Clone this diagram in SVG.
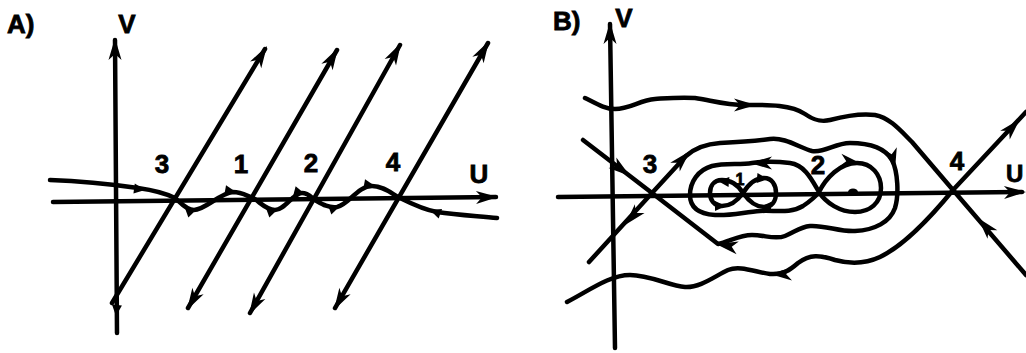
<svg xmlns="http://www.w3.org/2000/svg" xmlns:xlink="http://www.w3.org/1999/xlink" width="1026" height="353" viewBox="0 0 1026 353">
<style>
.ln{fill:none;stroke:#000;stroke-width:4.5;stroke-linecap:round;stroke-linejoin:round}
.lbl{font-family:"Liberation Sans",Arial,sans-serif;font-weight:bold;font-size:26px;fill:#000;stroke:#000;stroke-width:0.8}
.sm{font-size:16px}
</style>
<defs>
<path id="ah" d="M0,0 L-22,-6.5 L-16,0 L-22,6.5 Z" fill="#000"/>
<path id="as" d="M0,0 L-11,-5 L-11,5 Z" fill="#000"/>
</defs>
<rect width="1026" height="353" fill="#fff"/>

<g id="panelA">
  <text class="lbl" x="7" y="33">A)</text>
  <text class="lbl" x="127" y="33" text-anchor="middle">V</text>
  <text class="lbl" x="162" y="173" text-anchor="middle">3</text>
  <text class="lbl" x="241" y="173" text-anchor="middle">1</text>
  <text class="lbl" x="311" y="172" text-anchor="middle">2</text>
  <text class="lbl" x="393" y="171" text-anchor="middle">4</text>
  <text class="lbl" x="479" y="183" text-anchor="middle">U</text>
  <!-- axes -->
  <path class="ln" d="M115,40 L117,333"/>
  <use xlink:href="#ah" transform="translate(115,38) rotate(-90)"/>
  <use xlink:href="#as" transform="translate(116,316) rotate(95)"/>
  <path class="ln" d="M53,202 L496,197"/>
  <use xlink:href="#ah" transform="translate(498,197) rotate(-1)"/>
  <!-- diagonals -->
  <path class="ln" d="M112,303 L265,49"/>
  <use xlink:href="#ah" transform="translate(267,46) rotate(-59)"/>
  <path class="ln" d="M188,308 L337,50"/>
  <use xlink:href="#ah" transform="translate(338,48) rotate(-60)"/>
  <use xlink:href="#ah" transform="translate(187,310) rotate(120)"/>
  <path class="ln" d="M250,313 L400,45"/>
  <use xlink:href="#ah" transform="translate(401,43) rotate(-61)"/>
  <use xlink:href="#ah" transform="translate(249,315) rotate(119)"/>
  <path class="ln" d="M335,308 L488,43"/>
  <use xlink:href="#ah" transform="translate(489,41) rotate(-60)"/>
  <use xlink:href="#ah" transform="translate(334,310) rotate(120)"/>
  <!-- near-axis orbits -->
  <path class="ln" d="M50,180 C80,181 110,184 138,188 C152,190 165,193 175,198"/>
  <use xlink:href="#as" transform="translate(145,190) rotate(8)"/>
  <path class="ln" d="M175,198 C182,204 187,210 194,210 C205,210 220,193 233,192 C242,192 247,196 253,198 C260,202 266,210 275,210 C285,210 293,193 302,193 C308,193 311,197 315,200 C322,204 328,208 337,207 C348,205 358,186 372,186 C384,186 392,194 400,198 C412,204 425,210 437,212 C457,215 477,216 497,218"/>
  <use xlink:href="#as" transform="translate(197,209) rotate(-20)"/>
  <use xlink:href="#as" transform="translate(236,192) rotate(10)"/>
  <use xlink:href="#as" transform="translate(278,209) rotate(-20)"/>
  <use xlink:href="#as" transform="translate(305,194) rotate(15)"/>
  <use xlink:href="#as" transform="translate(340,206) rotate(-20)"/>
  <use xlink:href="#as" transform="translate(375,186) rotate(10)"/>
  <use xlink:href="#as" transform="translate(430,210) rotate(200)"/>
</g>

<g id="panelB">
  <text class="lbl" x="553" y="30">B)</text>
  <text class="lbl" x="624" y="27" text-anchor="middle">V</text>
  <text class="lbl" x="650" y="173" text-anchor="middle">3</text>
  <text class="lbl" x="818" y="174" text-anchor="middle">2</text>
  <text class="lbl" x="957" y="170" text-anchor="middle">4</text>
  <text class="lbl sm" x="740" y="185" text-anchor="middle">1</text>
  <text class="lbl" x="1006" y="182" style="font-size:24px">U</text>
  <!-- axes -->
  <path class="ln" d="M610,24 L615,348"/>
  <use xlink:href="#ah" transform="translate(610,22) rotate(-90)"/>
  <path class="ln" d="M558,197 L1022,192"/>
  <use xlink:href="#ah" transform="translate(1026,192) rotate(-1)"/>
  <!-- separatrices at 3 -->
  <path class="ln" d="M583,140 L652,193 L589,262"/>
  <use xlink:href="#ah" transform="translate(630,176) rotate(37)"/>
  <use xlink:href="#ah" transform="translate(625,225) rotate(132)"/>
  <!-- separatrices at 4 -->
  <path class="ln" d="M953,190 L1026,112"/>
  <use xlink:href="#ah" transform="translate(1020,119) rotate(-47)"/>
  <path class="ln" d="M953,190 L1026,275"/>
  <use xlink:href="#ah" transform="translate(978,218) rotate(229)"/>
  <!-- outer top -->
  <path class="ln" d="M585,98 C597,104 605,109 615,109 C630,109 640,100 655,99 C670,98 680,97 695,98 C710,100 725,105 745,105 C765,105 790,104 805,114 C815,121 822,122 830,120 C845,116 860,113 875,115 C890,118 900,130 912,142 L953,190"/>
  <use xlink:href="#ah" transform="translate(756,105) rotate(0)"/>
  <!-- outer bottom -->
  <path class="ln" d="M953,190 C935,212 905,245 880,257 C865,264 850,264 835,260 C820,255 810,254 798,263 C790,270 783,275 770,274 C755,272 740,265 728,270 C715,276 700,288 685,287 C670,286 650,275 630,275 C610,275 590,290 567,302"/>
  <use xlink:href="#ah" transform="translate(770,274) rotate(180)"/>
  <!-- homoclinic loop of 3 -->
  <path class="ln" d="M652,193 L686,156 C695,148 705,144 720,143 C740,142 755,141 770,139 C785,137 800,148 812,151 C825,153 835,143 850,143 C870,143 885,148 892,160 C898,172 899,195 895,208 C890,222 875,230 855,231 C840,232 825,225 810,226 C800,227 795,232 785,236 C775,240 765,235 752,235 C740,235 730,241 718,244 L652,193"/>
  <use xlink:href="#ah" transform="translate(690,151) rotate(-47)"/>
  <use xlink:href="#ah" transform="translate(895,170) rotate(78)"/>
  <use xlink:href="#ah" transform="translate(716,244) rotate(190)"/>
  <!-- figure eight through 2 -->
  <path class="ln" d="M819,192 C812,180 805,165 790,163 C775,161 765,161 752,163 C740,165 725,163 712,166 C698,170 690,182 690,195 C690,208 700,214 715,215 C730,216 745,212 760,211 C775,210 790,214 803,206 C812,200 816,196 819,192 C826,178 840,163 857,163 C872,163 881,175 881,188 C881,203 870,212 855,212 C840,212 826,203 819,192"/>
  <use xlink:href="#ah" transform="translate(750,163) rotate(180)"/>
  <use xlink:href="#ah" transform="translate(862,164) rotate(10)"/>
  <ellipse cx="853" cy="192" rx="5" ry="3.5" fill="#000"/>
  <!-- inner around 1 -->
  <path class="ln" d="M743,193 C738,185 732,180 722,180 C713,180 710,187 710,193 C710,200 714,206 722,206 C732,206 738,200 743,193 C748,185 755,178 764,178 C772,178 776,185 776,193 C776,201 772,207 764,207 C755,207 748,200 743,193 Z"/>
  <use xlink:href="#as" transform="translate(718,181) rotate(185)"/>
  <use xlink:href="#as" transform="translate(768,179) rotate(5)"/>
  <use xlink:href="#as" transform="translate(726,206) rotate(0)"/>
  <use xlink:href="#as" transform="translate(760,207) rotate(180)"/>
</g>
</svg>
